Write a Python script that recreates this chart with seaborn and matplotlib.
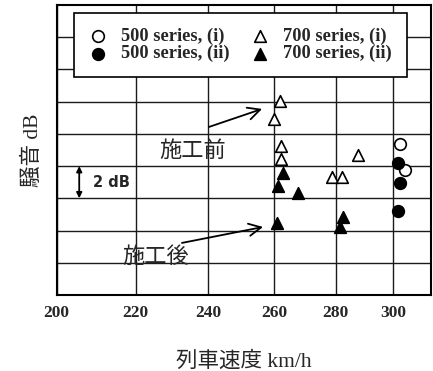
import numpy as np
import pandas as pd
import matplotlib
matplotlib.use("Agg")
import matplotlib.pyplot as plt
import seaborn as sns

# Measured noise vs. train speed (dB values relative; grid step = 2 dB)
s500_i_speed = [302.5, 304.3]
s500_i_db = [9.37, 7.76]
s500_ii_speed = [301.8, 302.5, 301.9]
s500_ii_db = [8.21, 6.93, 5.23]
s700_i_speed = [261.7, 259.8, 262.0, 262.0, 287.6, 278.7, 282.1]
s700_i_db = [12.06, 10.90, 9.25, 8.44, 8.69, 7.34, 7.34]
s700_ii_speed = [262.8, 261.0, 267.5, 260.9, 282.6, 281.5]
s700_ii_db = [7.55, 6.77, 6.31, 4.45, 4.86, 4.24]

series_labels = ["500 series, (i)", "500 series, (ii)", "700 series, (i)", "700 series, (ii)"]
x_ticks = [200, 220, 240, 260, 280, 300]
x_label = "列車速度 km/h"
y_label = "騒音 dB"

sns.set_theme(style="white")
plt.rcParams["font.family"] = ["Liberation Serif", "Noto Sans CJK JP"]

frames = []
for lab, xs, ys in zip(series_labels,
                       [s500_i_speed, s500_ii_speed, s700_i_speed, s700_ii_speed],
                       [s500_i_db, s500_ii_db, s700_i_db, s700_ii_db]):
    frames.append(pd.DataFrame({"speed": xs, "noise": ys, "series": lab}))
df = pd.concat(frames, ignore_index=True)

styles = {
    "500 series, (i)": dict(marker="o", facecolor="white"),
    "500 series, (ii)": dict(marker="o", facecolor="black"),
    "700 series, (i)": dict(marker="^", facecolor="white"),
    "700 series, (ii)": dict(marker="^", facecolor="black"),
}

fig = plt.figure(figsize=(4.33, 3.71), dpi=100)
ax = fig.add_axes([0.131, 0.205, 0.864, 0.7815])

ax.set_xscale("log")
for lab in series_labels:
    st = styles[lab]
    sns.scatterplot(data=df[df["series"] == lab], x="speed", y="noise", ax=ax,
                    marker=st["marker"], color=st["facecolor"], edgecolor="black",
                    linewidth=1.2, s=70, label=lab, zorder=3)

ax.set_xlim(200, 314)
ax.set_ylim(0, 18)
ax.set_xticks(x_ticks)
ax.set_xticklabels([str(t) for t in x_ticks], fontweight="bold", fontsize=12.5)
ax.xaxis.set_minor_locator(matplotlib.ticker.NullLocator())
ax.set_yticks(np.arange(2, 18, 2))
ax.set_yticklabels([])
ax.tick_params(axis="x", length=0, pad=7)
ax.tick_params(axis="y", length=0, pad=0)
ax.grid(True, color="#1a1a1a", linewidth=1.0)
ax.set_axisbelow(True)
for sp in ax.spines.values():
    sp.set_color("black")
    sp.set_linewidth(1.5)

ax.set_xlabel(x_label, fontsize=15.5, labelpad=22)
ax.set_ylabel(y_label, fontsize=15.5, labelpad=10)

leg = ax.legend(loc="upper left", bbox_to_anchor=(0.046, 0.972), ncol=2,
                frameon=True, fancybox=False, framealpha=1, edgecolor="black",
                prop={"family": "Liberation Serif", "weight": "bold", "size": 13.2},
                handlelength=1.0, handletextpad=0.75, columnspacing=1.2,
                labelspacing=0.0, borderpad=0.8, borderaxespad=0)
leg.get_frame().set_linewidth(1.2)

# 2 dB scale bar
ax.annotate("", xy=(205.5, 8), xytext=(205.5, 6),
            arrowprops=dict(arrowstyle="<|-|>", color="black", lw=1.3,
                            mutation_scale=8, shrinkA=0, shrinkB=0))
ax.text(209.0, 7, "2 dB", fontsize=10.5, fontweight="bold",
        family="DejaVu Sans", va="center", ha="left")

# before / after annotations
arrow_kw = dict(arrowstyle="->", color="black", lw=1.3,
                mutation_scale=22, shrinkA=0, shrinkB=0)
ax.text(235.7, 9.0, "施工前", fontsize=16, family="Noto Sans CJK JP",
        ha="center", va="center")
ax.annotate("", xy=(256.2, 11.55), xytext=(240.3, 10.43), arrowprops=arrow_kw)
ax.text(225.4, 2.42, "施工後", fontsize=16, family="Noto Sans CJK JP",
        ha="center", va="center")
ax.annotate("", xy=(256.5, 4.22), xytext=(232.6, 3.23), arrowprops=arrow_kw)

fig.savefig("out.png", dpi=100, facecolor="white")
